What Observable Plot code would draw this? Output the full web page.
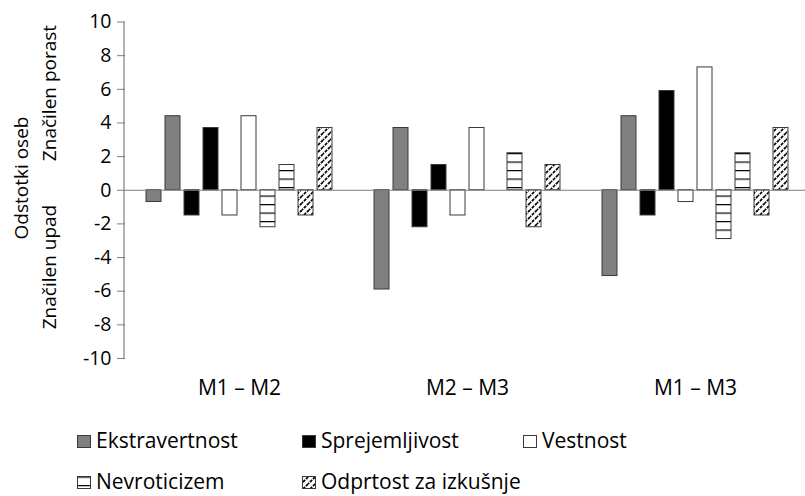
<!DOCTYPE html>
<html>
<head>
<meta charset="utf-8">
<script src="https://cdn.jsdelivr.net/npm/d3@7"></script>
<script src="https://cdn.jsdelivr.net/npm/@observablehq/plot@0.6"></script>
<style>
  html, body { margin: 0; padding: 0; background: #fff; }
  #wrap { position: relative; width: 805px; height: 496px; overflow: hidden; font-family: "Open Sans", sans-serif; }
  #wrap svg { display: block; }
</style>
</head>
<body>
<div id="wrap"></div>
<script>
// ---- data ----
const groups = ["M1 – M2", "M2 – M3", "M1 – M3"];
const traits = ["Ekstravertnost", "Sprejemljivost", "Vestnost", "Nevroticizem", "Odprtost za izkušnje"];
// Značilen upad (significant decline), per group, per trait
const decline = [
  [-0.7, -1.5, -1.5, -2.2, -1.5],
  [-5.9, -2.2, -1.5, 0, -2.2],
  [-5.1, -1.5, -0.7, -2.9, -1.5]
];
// Značilen porast (significant increase), per group, per trait
const increase = [
  [4.4, 3.7, 4.4, 1.5, 3.7],
  [3.7, 1.5, 3.7, 2.2, 1.5],
  [4.4, 5.9, 7.3, 2.2, 3.7]
];
const yTicks = [-10, -8, -6, -4, -2, 0, 2, 4, 6, 8, 10];

const fills = ["#808080", "#000000", "#ffffff", "url(#hpat)", "url(#dpat)"];

// build table
const rows = [];
groups.forEach((g, gi) => {
  traits.forEach((t, ti) => {
    rows.push({group: g, trait: t, slot: ti * 2, value: decline[gi][ti]});
    rows.push({group: g, trait: t, slot: ti * 2 + 1, value: increase[gi][ti]});
  });
});
const bars = rows.filter(d => d.value !== 0);

const W = 805, H = 400;
const chart = Plot.plot({
  width: W,
  height: H,
  marginLeft: 124,
  marginRight: 0,
  marginTop: 21.5,
  marginBottom: 42,
  style: {fontFamily: "Open Sans, sans-serif", background: "#fff"},
  fx: {domain: groups, range: [124, 124 + 3 * 228.65], padding: 0, label: null},
  x: {domain: d3.range(10), paddingInner: 0.2, paddingOuter: 0.816, axis: null},
  y: {domain: [-10, 10], ticks: yTicks, label: null},
  color: {domain: traits, range: fills, legend: false},
  marks: [
    Plot.axisFx({anchor: "bottom", tickSize: 0, tickPadding: 22, fontSize: 21, label: null, fill: "#000"}),
    Plot.axisY({ticks: yTicks, tickFormat: d => String(d), tickSize: 8, tickPadding: 6, fontSize: 19.5, label: null, stroke: "#7f7f7f", fill: "#000", facetAnchor: "left"}),
    Plot.barY(bars, {fx: "group", x: "slot", y: "value", fill: "trait", stroke: "#3a3a3a", strokeWidth: 1}),
    Plot.ruleY([0], {stroke: "#7f7f7f", strokeWidth: 1.2})
  ]
});

const svg = d3.select(chart);
const defs = svg.insert("defs", ":first-child");
function addPatterns(defs, suffix) {
  const hp = defs.append("pattern").attr("id", "hpat" + suffix).attr("patternUnits", "userSpaceOnUse")
    .attr("width", 8).attr("height", 8.5);
  hp.append("rect").attr("width", 8).attr("height", 8.5).attr("fill", "#fff");
  hp.append("rect").attr("y", 0).attr("width", 8).attr("height", 1.2).attr("fill", "#000");
  const dp = defs.append("pattern").attr("id", "dpat" + suffix).attr("patternUnits", "userSpaceOnUse")
    .attr("width", 7).attr("height", 7);
  dp.append("rect").attr("width", 7).attr("height", 7).attr("fill", "#fff");
  dp.append("path").attr("d", "M-1,8 L8,-1 M-2,2 L2,-2 M5,9 L9,5")
    .attr("stroke", "#000").attr("stroke-width", 1.7).attr("stroke-dasharray", "3,1.2");
}
addPatterns(defs, "");

// y axis line using the plot's own y scale
const y = chart.scale("y");
svg.append("line")
  .attr("x1", 124).attr("x2", 124)
  .attr("y1", y.apply(10)).attr("y2", y.apply(-10))
  .attr("stroke", "#7f7f7f").attr("stroke-width", 1.2);

// y axis title (two lines)
function vtext(x, cy, txt, size) {
  svg.append("text")
    .attr("transform", `translate(${x},${cy}) rotate(-90)`)
    .attr("text-anchor", "middle").attr("dy", "0.35em")
    .attr("font-size", size).attr("fill", "#000")
    .text(txt);
}
vtext(21, 178, "Odstotki oseb", 19);
vtext(49, 93, "Značilen porast", 19);
vtext(49, 267, "Značilen upad", 19);

document.getElementById("wrap").appendChild(chart);

// legend below the plot svg
const leg = d3.select("#wrap").append("svg").attr("width", W).attr("height", 96);
addPatterns(leg.append("defs"), "L");
const legendFills = ["#808080", "#000000", "#ffffff", "url(#hpatL)", "url(#dpatL)"];
const legendPos = [[77, 35], [302, 35], [523, 35], [77, 76], [302, 76]];
traits.forEach((t, i) => {
  const [lx, ly] = legendPos[i];
  leg.append("rect").attr("x", lx + 0.5).attr("y", ly + 0.5).attr("width", 13).attr("height", 12)
    .attr("fill", legendFills[i]).attr("stroke", "#3a3a3a").attr("stroke-width", 1);
  leg.append("text").attr("x", lx + 19).attr("y", ly + 12.5)
    .attr("font-size", 21).attr("fill", "#000").text(t);
});
</script>
</body>
</html>
